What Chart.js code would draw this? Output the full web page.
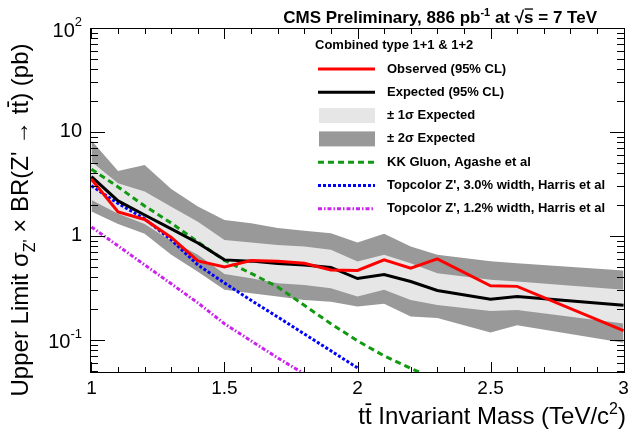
<!DOCTYPE html>
<html>
<head>
<meta charset="utf-8">
<script src="https://cdn.jsdelivr.net/npm/chart.js@4.4.0/dist/chart.umd.min.js"></script>
<style>
  html, body { margin: 0; padding: 0; background: #fff; }
  #wrap { width: 630px; height: 434px; }
</style>
</head>
<body>
<div id="wrap"><canvas id="limitChart" width="630" height="434"></canvas></div>
<script>
// Z' -> ttbar limit (pb)
const masses = [1.0, 1.1, 1.2, 1.3, 1.4, 1.5, 1.6, 1.7, 1.8, 1.9, 2.0, 2.1, 2.2, 2.3, 2.5, 2.6, 3.0];
const observed   = [3.51, 1.70, 1.44, 0.967, 0.575, 0.503, 0.579, 0.569, 0.546, 0.471, 0.466, 0.588, 0.489, 0.601, 0.331, 0.327, 0.123];
const expected   = [3.72, 2.17, 1.59, 1.17, 0.856, 0.588, 0.572, 0.544, 0.526, 0.498, 0.389, 0.426, 0.364, 0.299, 0.246, 0.261, 0.215];
const sigma1Up   = [5.18, 3.21, 2.67, 1.91, 1.37, 0.915, 0.862, 0.819, 0.789, 0.734, 0.566, 0.657, 0.546, 0.438, 0.378, 0.364, 0.303];
const sigma1Down = [2.22, 1.63, 1.30, 0.895, 0.657, 0.431, 0.392, 0.351, 0.338, 0.314, 0.261, 0.303, 0.242, 0.217, 0.190, 0.194, 0.144];
const sigma2Up   = [8.28, 4.22, 4.82, 2.83, 1.92, 1.42, 1.32, 1.19, 1.12, 1.06, 0.862, 1.05, 0.789, 0.657, 0.569, 0.546, 0.466];
const sigma2Down = [1.72, 1.30, 1.05, 0.657, 0.451, 0.303, 0.281, 0.261, 0.242, 0.233, 0.209, 0.222, 0.168, 0.162, 0.118, 0.138, 0.0936];

// theory curves
const kkMass = [1.0, 1.1, 1.2, 1.3, 1.4, 1.5, 1.6, 1.7, 1.8, 1.9, 2.0, 2.1, 2.2, 2.3];
const kkGluon = [4.38, 2.96, 1.94, 1.33, 0.876, 0.581, 0.436, 0.323, 0.215, 0.143, 0.0978, 0.0702, 0.0532, 0.0412];
const tc30Mass = [1.0, 1.1, 1.2, 1.3, 1.4, 1.5, 1.6, 1.7, 1.8, 1.9, 2.0];
const topcolor30 = [3.03, 2.05, 1.46, 0.915, 0.526, 0.353, 0.240, 0.166, 0.114, 0.0784, 0.0538];
const tc12Mass = [1.0, 1.1, 1.2, 1.3, 1.4, 1.5, 1.6, 1.7, 1.8];
const topcolor12 = [1.22, 0.801, 0.526, 0.346, 0.227, 0.143, 0.0978, 0.0671, 0.0471];

const xTickValues = [1, 1.5, 2, 2.5, 3];
const yDecadeLabels = [[100, '10', '2'], [10, '10', ''], [1, '1', ''], [0.1, '10', '-1']];

const FONT = '"Liberation Sans", Arial, Helvetica, sans-serif';
const DARK = '#999999', LIGHT = '#e6e6e6';

const pts = (xs, ys) => xs.map((m, i) => ({ x: m, y: ys[i] }));
const lineDs = (label, xs, ys, color, dash, order) => ({
  label, data: pts(xs, ys), borderColor: color, borderWidth: 3, borderDash: dash,
  pointRadius: 0, tension: 0, fill: false, order
});
const bandDs = (label, ys, fill, color, order) => ({
  label, data: pts(masses, ys), borderWidth: 0, borderColor: 'rgba(0,0,0,0)',
  backgroundColor: color, pointRadius: 0, tension: 0, fill, order
});

// rich text: segments {t, sup, sub, bar}
function richWidth(ctx, segs, size, weight) {
  let w = 0;
  segs.forEach(s => {
    ctx.font = `${weight} ${s.sup || s.sub ? Math.round(size * 0.65) : size}px ${FONT}`;
    w += ctx.measureText(s.t).width;
  });
  return w;
}
function drawRich(ctx, segs, x, y, size, weight) {
  segs.forEach(s => {
    const sz = s.sup || s.sub ? Math.round(size * 0.65) : size;
    ctx.font = `${weight} ${sz}px ${FONT}`;
    const dy = s.sup ? -size * 0.42 : s.sub ? size * 0.28 : 0;
    ctx.fillText(s.t, x, y + dy);
    const w = ctx.measureText(s.t).width;
    if (s.bar) {
      ctx.fillRect(x + 0.5, y - size * 0.86, w - 1, Math.max(1.3, size * 0.07));
    }
    x += w;
  });
}

const framePlugin = {
  id: 'frameAndText',
  afterDatasetsDraw(chart) {
    const { ctx, chartArea: a, scales: { x, y } } = chart;
    ctx.save();
    ctx.strokeStyle = '#000';
    ctx.fillStyle = '#000';
    ctx.lineWidth = 1;
    ctx.strokeRect(a.left + 0.5, a.top + 0.5, a.right - a.left - 1, a.bottom - a.top - 1);

    // inward ticks
    ctx.beginPath();
    for (let k = 10; k <= 30; k++) {
      const px = Math.round(x.getPixelForValue(k / 10)) + 0.5;
      const len = k % 5 === 0 ? 11 : 6;
      ctx.moveTo(px, a.bottom); ctx.lineTo(px, a.bottom - len);
      ctx.moveTo(px, a.top); ctx.lineTo(px, a.top + len);
    }
    for (let e = -2; e <= 2; e++) {
      for (let m = 1; m <= 9; m++) {
        const v = m * Math.pow(10, e);
        if (v < y.min || v > y.max * 1.0001) continue;
        const py = Math.round(y.getPixelForValue(v)) + 0.5;
        const len = m === 1 ? 15 : 8;
        ctx.moveTo(a.left, py); ctx.lineTo(a.left + len, py);
        ctx.moveTo(a.right, py); ctx.lineTo(a.right - len, py);
      }
    }
    ctx.stroke();

    // y tick labels
    ctx.textBaseline = 'middle';
    yDecadeLabels.forEach(([v, base, exp]) => {
      const py = y.getPixelForValue(v);
      const segs = [{ t: base }];
      if (exp) segs.push({ t: exp, sup: true });
      const w = richWidth(ctx, segs, 20, 'normal');
      drawRich(ctx, segs, 82 - w, py + (exp ? 3 : 0), 20, 'normal');
    });

    // axis titles
    ctx.textBaseline = 'alphabetic';
    const xt = [{ t: 't' }, { t: 't', bar: true }, { t: ' Invariant Mass (TeV/c' }, { t: '2', sup: true }, { t: ')' }];
    const xw = richWidth(ctx, xt, 24, 'normal');
    drawRich(ctx, xt, 626 - xw, 424, 24, 'normal');

    const yt = [{ t: 'Upper Limit \u03c3' }, { t: "Z'", sub: true }, { t: " \u00d7 BR(Z' \u2192 t" }, { t: 't', bar: true }, { t: ') (pb)' }];
    const yw = richWidth(ctx, yt, 24, 'normal');
    ctx.save();
    ctx.translate(28, 220);
    ctx.rotate(-Math.PI / 2);
    drawRich(ctx, yt, -yw / 2, 0, 24, 'normal');
    ctx.restore();

    // header
    const hd = [{ t: 'CMS Preliminary, 886 pb' }, { t: '-1', sup: true }, { t: ' at \u221a' }, { t: 's', bar: true }, { t: ' = 7 TeV' }];
    const hw = richWidth(ctx, hd, 17, 'bold');
    drawRich(ctx, hd, 597 - hw, 23, 17, 'bold');

    // legend
    ctx.textBaseline = 'middle';
    ctx.font = `bold 13px ${FONT}`;
    ctx.fillText('Combined type 1+1 & 1+2', 315, 45);
    const rows = [0, 1, 5, 7, 2, 3, 4];
    const legendText = { 5: '\u00b1 1\u03c3 Expected', 7: '\u00b1 2\u03c3 Expected' };
    rows.forEach((di, r) => {
      const ds = chart.data.datasets[di];
      const cy = 69 + r * 23.3;
      if (di === 5 || di === 7) {
        ctx.fillStyle = ds.backgroundColor;
        ctx.fillRect(319, cy - 7.5, 56, 15);
      } else {
        ctx.beginPath();
        ctx.strokeStyle = ds.borderColor;
        ctx.lineWidth = 3;
        ctx.setLineDash(ds.borderDash || []);
        ctx.moveTo(318, cy); ctx.lineTo(375, cy);
        ctx.stroke();
        ctx.setLineDash([]);
      }
      ctx.fillStyle = '#000';
      ctx.font = `bold 13px ${FONT}`;
      ctx.fillText(legendText[di] || ds.label, 387, cy);
    });
    ctx.restore();
  }
};

new Chart(document.getElementById('limitChart').getContext('2d'), {
  type: 'line',
  data: {
    datasets: [
      lineDs('Observed (95% CL)', masses, observed, '#ff0000', [], 1),
      lineDs('Expected (95% CL)', masses, expected, '#000000', [], 2),
      lineDs('KK Gluon, Agashe et al', kkMass, kkGluon, '#119911', [6, 4], 3),
      lineDs("Topcolor Z', 3.0% width, Harris et al", tc30Mass, topcolor30, '#0000ff', [3, 2], 4),
      lineDs("Topcolor Z', 1.2% width, Harris et al", tc12Mass, topcolor12, '#cc22ee', [4, 2, 1.5, 2], 5),
      bandDs('sigma1Up', sigma1Up, '+1', LIGHT, 20),
      bandDs('sigma1Down', sigma1Down, false, LIGHT, 21),
      bandDs('sigma2Up', sigma2Up, '+1', DARK, 30),
      bandDs('sigma2Down', sigma2Down, false, DARK, 31)
    ]
  },
  options: {
    responsive: false,
    animation: false,
    devicePixelRatio: 1,
    layout: { padding: { left: 0, right: 5, top: 28, bottom: 0 } },
    plugins: { legend: { display: false }, tooltip: { enabled: false } },
    scales: {
      x: {
        type: 'linear', min: 0.9945, max: 3.0055,
        grid: { display: false, drawTicks: false },
        border: { display: false },
        afterBuildTicks: s => { s.ticks = xTickValues.map(v => ({ value: v })); },
        afterFit: s => { s.height = 61; s.paddingLeft = 0; s.paddingRight = 0; },
        ticks: {
          padding: 4, color: '#000', maxRotation: 0, autoSkip: false,
          font: { family: FONT, size: 19 },
          callback: v => String(v)
        }
      },
      y: {
        type: 'logarithmic', min: 0.048, max: 100,
        grid: { display: false, drawTicks: false },
        border: { display: false },
        ticks: { display: false },
        afterFit: s => { s.width = 90; s.paddingTop = 0; s.paddingBottom = 0; }
      }
    }
  },
  plugins: [framePlugin]
});
</script>
</body>
</html>
